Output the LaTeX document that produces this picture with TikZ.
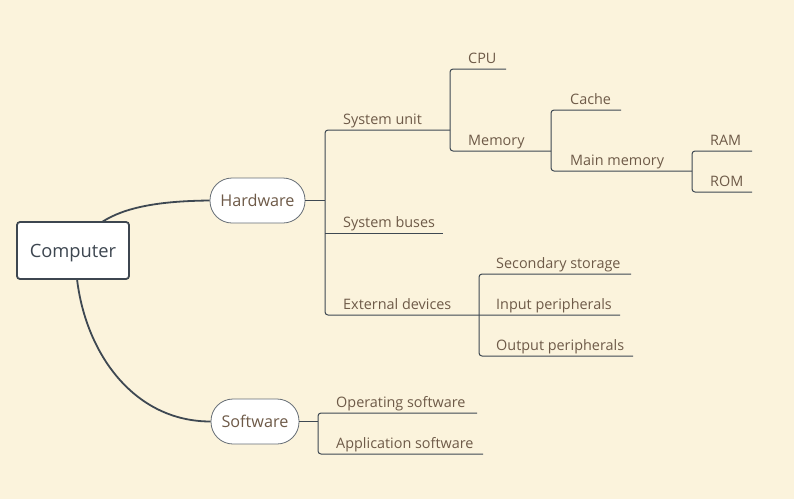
\documentclass[tikz,border=0pt]{standalone}
\usepackage{fontspec}
\setmainfont{Open Sans}
\definecolor{bgc}{HTML}{FBF3DC}
\definecolor{txt}{HTML}{6E5A48}
\definecolor{lnc}{HTML}{3E4852}
\definecolor{rootc}{HTML}{3D4650}
\begin{document}
\begin{tikzpicture}[x=1pt,y=-1pt,
  lbl/.style={anchor=base west,inner sep=0pt,text=txt,font=\fontsize{14.4}{16}\selectfont},
  br/.style={draw=lnc,line width=1pt,rounded corners=3pt},
  main/.style={draw=lnc,line width=1.8pt},
  rootbox/.style={draw=rootc,line width=1.8pt,fill=white,rounded corners=3pt,minimum width=112pt,minimum height=57pt,inner sep=0pt,text depth=0pt,text=rootc,font=\fontsize{18.3}{20}\selectfont},
  topic/.style={draw=lnc!80,line width=0.8pt,fill=white,rounded corners=22pt,inner sep=0pt,text depth=0pt,text=txt,font=\fontsize{16.2}{18}\selectfont}
]
\fill[bgc] (0,0) rectangle (794,499);
\useasboundingbox (0,0) rectangle (794,499);

% root and main topics
\node[rootbox] (comp) at (73,250.5) {Computer};
\node[topic,minimum width=95pt,minimum height=45pt] (hw) at (257.5,200.5) {Hardware};
\node[topic,minimum width=88pt,minimum height=45pt] (sw) at (255,421.5) {Software};

\coordinate (c1) at (102,222);
\coordinate (c2) at (77,279);
\draw[main] (c1) .. controls (125,207) and (160,201) .. (hw.west);
\draw[main] (c2) .. controls (86,355) and (135,421.5) .. (sw.west);

% Hardware subtree
\coordinate (hwj) at (325,200.5);
\draw[br] (hw.east) -- (hwj);
\node[lbl] (su) at (343,124) {System unit};
\node[lbl] (sb) at (343,227) {System buses};
\node[lbl] (ed) at (343,309) {External devices};
\coordinate (suE) at (450,130);
\coordinate (sbE) at (443,233);
\coordinate (edE) at (620,315);
\draw[br] (suE) -- (325,130) -- (325,315) -- (edE);
\draw[br] (325,233) -- (sbE);

% System unit children
\node[lbl] (cpu) at (468,63) {CPU};
\node[lbl] (mem) at (468,145) {Memory};
\coordinate (cpuE) at (506,69);
\coordinate (memE) at (551,151);
\draw[br] (cpuE) -- (450,69) -- (450,151) -- (memE);

% Memory children
\node[lbl] (cache) at (570,104) {Cache};
\node[lbl] (mm) at (570,165) {Main memory};
\coordinate (cacheE) at (621,110);
\coordinate (mmE) at (692,171);
\draw[br] (cacheE) -- (551,110) -- (551,171) -- (mmE);

% Main memory children
\node[lbl] (ram) at (710,145) {RAM};
\node[lbl] (rom) at (710,186) {ROM};
\coordinate (ramE) at (752,151);
\coordinate (romE) at (752,192);
\draw[br] (ramE) -- (692,151) -- (692,192) -- (romE);

% External devices children
\node[lbl] (ss) at (496,268) {Secondary storage};
\node[lbl] (ip) at (496,309) {Input peripherals};
\node[lbl] (op) at (496,350) {Output peripherals};
\coordinate (ssE) at (631,274);
\coordinate (opE) at (633,356);
\draw[br] (ssE) -- (479,274) -- (479,356) -- (opE);

% Software subtree
\coordinate (swj) at (318,421.5);
\draw[br] (sw.east) -- (swj);
\node[lbl] (os) at (336,407) {Operating software};
\node[lbl] (as) at (336,448) {Application software};
\coordinate (osE) at (477,413);
\coordinate (asE) at (483,454);
\draw[br] (osE) -- (318,413) -- (318,454) -- (asE);
\end{tikzpicture}
\end{document}
